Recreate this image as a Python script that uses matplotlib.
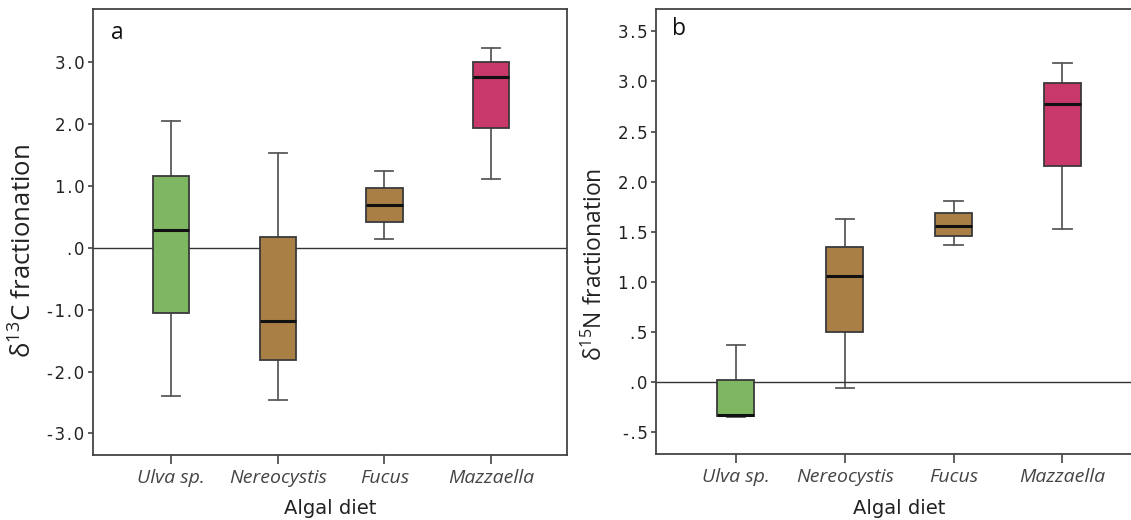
import matplotlib
matplotlib.use("Agg")
import matplotlib.pyplot as plt
from matplotlib.ticker import FuncFormatter, MultipleLocator

# Algal diets fed to the animals
diets = ["Ulva sp.", "Nereocystis", "Fucus", "Mazzaella"]
box_colors = ["#7EB661", "#A97F46", "#A97F46", "#C8386A"]

# d13C fractionation: lower whisker, Q1, median, Q3, upper whisker
c_whislo = [-2.39, -2.46, 0.14, 1.11]
c_q1 = [-1.05, -1.82, 0.42, 1.94]
c_med = [0.29, -1.18, 0.70, 2.76]
c_q3 = [1.17, 0.17, 0.97, 3.00]
c_whishi = [2.05, 1.53, 1.25, 3.24]

# d15N fractionation
n_whislo = [-0.35, -0.06, 1.37, 1.53]
n_q1 = [-0.34, 0.50, 1.46, 2.16]
n_med = [-0.33, 1.06, 1.56, 2.78]
n_q3 = [0.02, 1.35, 1.69, 2.98]
n_whishi = [0.37, 1.63, 1.81, 3.18]

plt.rcParams["mathtext.fontset"] = "custom"
plt.rcParams["mathtext.rm"] = "Open Sans"

HAIR = "\u200a"


def spss_fmt(v, pos):
    # SPSS style: no leading zero (".0", "-.5"), loosely spaced
    s = f"{v:.1f}"
    s = s.replace("-0.", "-.")
    if s.startswith("0."):
        s = s[1:]
    return HAIR.join(s)


def draw_panel(ax, whislo, q1, med, q3, whishi, ylim, ystep, ylabel, ylab_size,
               ylab_xy, letter, letter_pos, xlim):
    stats = []
    for i in range(len(diets)):
        stats.append({"whislo": whislo[i], "q1": q1[i], "med": med[i],
                      "q3": q3[i], "whishi": whishi[i], "fliers": []})
    res = ax.bxp(stats, positions=range(1, len(diets) + 1), widths=0.34,
                 patch_artist=True, showfliers=False,
                 boxprops=dict(edgecolor="#3a3a3a", linewidth=1.3),
                 medianprops=dict(color="#111111", linewidth=2.2),
                 whiskerprops=dict(color="#5a5a5a", linewidth=1.3),
                 capprops=dict(color="#5a5a5a", linewidth=1.3))
    for patch, col in zip(res["boxes"], box_colors):
        patch.set_facecolor(col)
    for art in res["boxes"] + res["medians"]:
        art.set_zorder(3)

    ax.axhline(0, color="#333333", linewidth=1.0, zorder=2.5)

    ax.set_xlim(*xlim)
    ax.set_ylim(*ylim)
    ax.yaxis.set_major_locator(MultipleLocator(ystep))
    ax.yaxis.set_major_formatter(FuncFormatter(spss_fmt))
    ax.set_xticks(range(1, len(diets) + 1))
    ax.set_xticklabels(diets, fontsize=14, style="italic", family="Open Sans",
                       color="#222222")
    ax.tick_params(axis="y", length=3.6, width=1.2, pad=2.5, labelsize=12,
                   colors="#444444", labelcolor="#222222")
    ax.tick_params(axis="x", length=6.5, width=1.2, pad=3.5, colors="#444444")
    for sp in ax.spines.values():
        sp.set_color("#444444")
        sp.set_linewidth(1.3)

    ax.set_xlabel("Algal diet", fontsize=14, color="#222222", labelpad=9)
    ax.set_ylabel(ylabel, fontsize=ylab_size, family="Open Sans", color="#222222")
    ax.yaxis.set_label_coords(*ylab_xy)
    ax.text(letter_pos[0], letter_pos[1], letter, transform=ax.transAxes,
            fontsize=16.5, family="Open Sans", color="#111111", va="baseline")


fig = plt.figure(figsize=(11.31, 5.2), dpi=100)
ax_c = fig.add_axes([0.0822, 0.125, 0.4191, 0.8571])
ax_n = fig.add_axes([0.5800, 0.1263, 0.4297, 0.8558])

draw_panel(ax_c, c_whislo, c_q1, c_med, c_q3, c_whishi, (-3.35, 3.86), 1.0,
           r"δ$^{\mathregular{13}}$C fractionation", 18.5, (-0.118, 0.457),
           "a", (0.038, 0.933), (0.27, 4.71))
draw_panel(ax_n, n_whislo, n_q1, n_med, n_q3, n_whishi, (-0.72, 3.72), 0.5,
           r"δ$^{\mathregular{15}}$N fractionation", 16.5, (-0.099, 0.427),
           "b", (0.033, 0.942), (0.266, 4.73))

fig.savefig("out.png", dpi=100)
